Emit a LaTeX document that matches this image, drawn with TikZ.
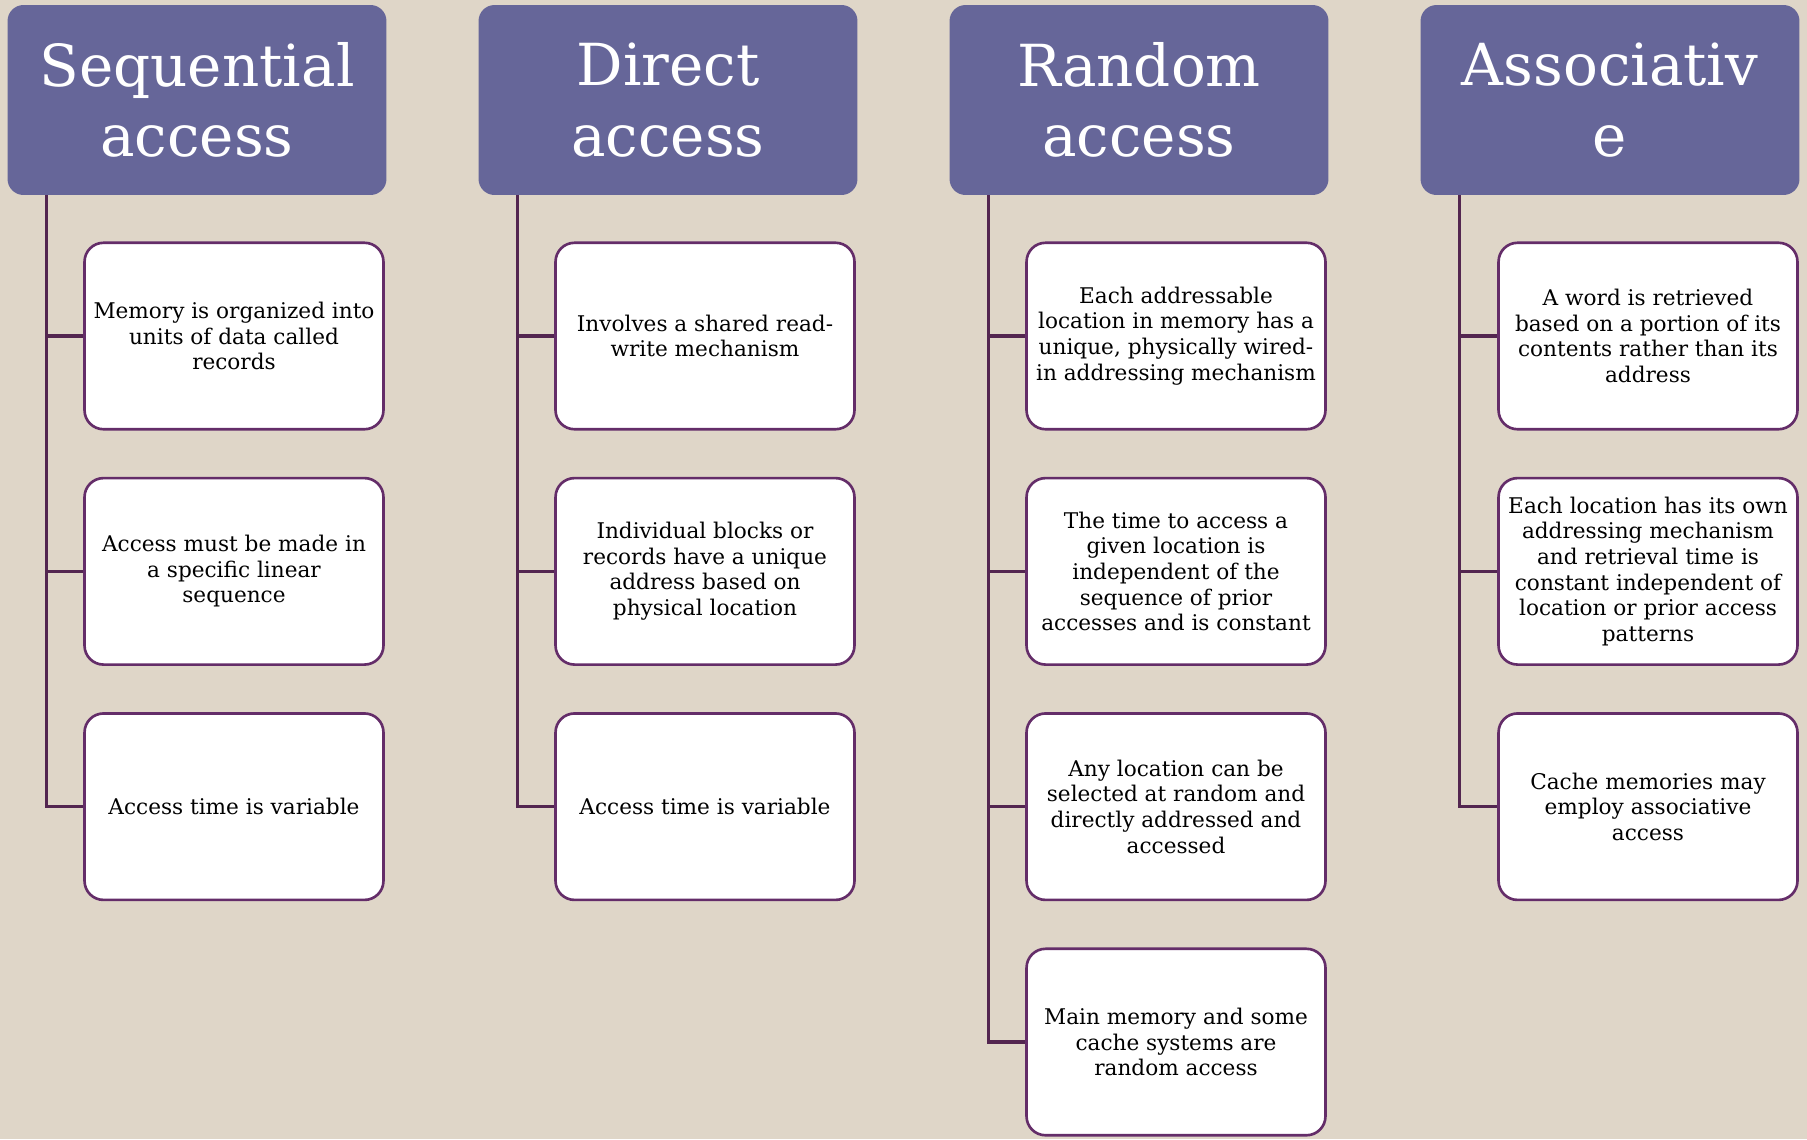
\documentclass[tikz,border=0pt]{standalone}
\usepackage{fontspec}
\setmainfont{DejaVu Serif}
\usetikzlibrary{positioning}

\definecolor{paper}{HTML}{DFD6C8}
\definecolor{headfill}{HTML}{666699}
\definecolor{boxline}{HTML}{642D69}
\definecolor{busline}{HTML}{532650}

\begin{document}
\begin{tikzpicture}[x=0.02cm,y=-0.02cm,
    header/.style={fill=headfill, rounded corners=0.32cm, minimum width=7.58cm, minimum height=3.8cm,
        text=white, align=center, inner sep=0pt, font=\fontsize{33}{40}\selectfont},
    item/.style={draw=boxline, line width=1.5pt, fill=white, rounded corners=0.38cm,
        minimum width=5.98cm, minimum height=3.73cm, align=center, inner sep=0pt,
        font=\fontsize{12.3}{14.6}\selectfont},
    bus/.style={draw=busline, line width=1.8pt},
    node distance=0.925cm]
    \useasboundingbox (0,0) rectangle (1807,1139);
    \fill[paper] (0,0) rectangle (1807,1139);

    % column headers
    \node[header] (seq) at (197,100) {Sequential\\access};
    \node[header] (dir) at (668,100) {Direct\\access};
    \node[header] (ran) at (1139,100) {Random\\access};
    \node[header] (ass) at (1610,100) {Associativ\\e};

    % sequential
    \node[item] (seq1) at (234,336) {Memory is organized into\\units of data called\\records};
    \node[item, below=of seq1] (seq2) {Access must be made in\\a specific linear\\sequence};
    \node[item, below=of seq2] (seq3) {Access time is variable};

    % direct
    \node[item] (dir1) at (705,336) {Involves a shared read-\\write mechanism};
    \node[item, below=of dir1] (dir2) {Individual blocks or\\records have a unique\\address based on\\physical location};
    \node[item, below=of dir2] (dir3) {Access time is variable};

    % random
    \node[item] (ran1) at (1176,336) {Each addressable\\location in memory has a\\unique, physically wired-\\in addressing mechanism};
    \node[item, below=of ran1] (ran2) {The time to access a\\given location is\\independent of the\\sequence of prior\\accesses and is constant};
    \node[item, below=of ran2] (ran3) {Any location can be\\selected at random and\\directly addressed and\\accessed};
    \node[item, below=of ran3] (ran4) {Main memory and some\\cache systems are\\random access};

    % associative
    \node[item] (ass1) at (1648,336) {A word is retrieved\\based on a portion of its\\contents rather than its\\address};
    \node[item, below=of ass1] (ass2) {Each location has its own\\addressing mechanism\\and retrieval time is\\constant independent of\\location or prior access\\patterns};
    \node[item, below=of ass2] (ass3) {Cache memories may\\employ associative\\access};

    % branches
    \foreach \col/\last in {seq/3,dir/3,ran/4,ass/3} {
        \coordinate (\col bus) at ([xshift=0.78cm]\col.south west);
        \draw[bus] (\col bus) |- (\col\last.west);
        \foreach \i in {1,...,\last}
            \draw[bus] (\col bus |- \col\i.west) -- (\col\i.west);
    }
\end{tikzpicture}
\end{document}
